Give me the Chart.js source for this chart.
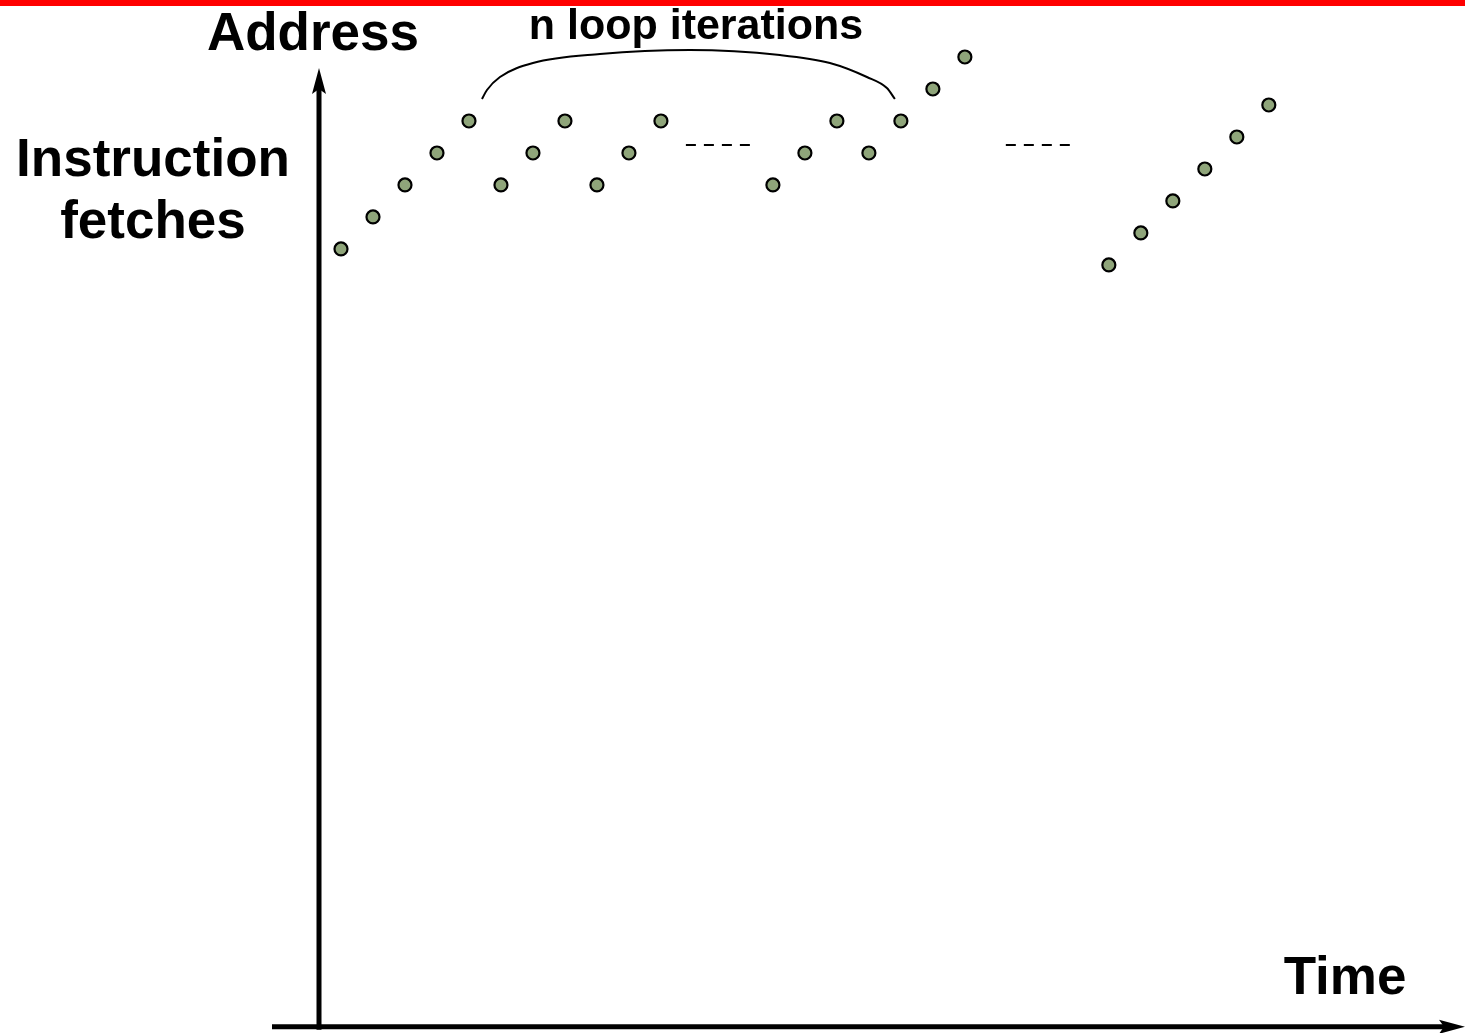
<!DOCTYPE html>
<html>
<head>
<meta charset="utf-8">
<title>Instruction fetches</title>
<script src="https://cdn.jsdelivr.net/npm/chart.js@4.4.0/dist/chart.umd.min.js"></script>
<style>
  html, body { margin: 0; padding: 0; background: #fff; overflow: hidden; }
  #myChart { display: block; }
</style>
</head>
<body>
<canvas id="myChart" width="1465" height="1033"></canvas>
<script>
// time step of each fetch and the address level it hits
var fetchTimes = [1, 2, 3, 4, 5, 6, 7, 8, 9, 10, 11,
                  14.5, 15.5, 16.5, 17.5, 18.5, 19.5, 20.5,
                  25, 26, 27, 28, 29, 30];
var fetchAddr = [1, 2, 3, 4, 5, 3, 4, 5, 3, 4, 5,
                 3, 4, 5, 4, 5, 6, 7,
                 0.5, 1.5, 2.5, 3.5, 4.5, 5.5];

// "- - - -" gaps meaning more iterations
var gap1X = [11.78, 13.78];
var gap2X = [21.78, 23.78];
var gapY = [4.25, 4.25];

// brace over the loop iterations
var braceX = [5.406, 5.5625, 5.969, 7.0, 9.094, 11.906, 14.719, 16.281, 17.4375, 18.0625, 18.3125];
var braceY = [5.6875, 5.969, 6.375, 6.8125, 7.094, 7.219, 7.0625, 6.8125, 6.375, 6.031, 5.6875];

// where the two axes cross, and where the address arrow ends
var originX = 0.3125, originY = -23.3125;
var arrowTopY = 6.65625;
var xMin = 0.3125, xMax = 35.86;
var yMin = -23.234, yMax = 7.53125;

var braceLabel = 'n loop iterations';
var yLabel = 'Address';
var yLabel2 = ['Instruction', 'fetches'];
var xLabel = 'Time';

function toPoints(xs, ys) {
    var pts = [];
    for (var i = 0; i < xs.length; ++i) {
        pts.push({x: xs[i], y: ys[i]});
    }
    return pts;
}

function arrowHead(ctx, x, y, dir) {
    // dir: 'up' or 'right'
    ctx.beginPath();
    if (dir == 'up') {
        ctx.moveTo(x, y);
        ctx.lineTo(x + 7, y + 26);
        ctx.lineTo(x, y + 21);
        ctx.lineTo(x - 7, y + 26);
    } else {
        ctx.moveTo(x, y);
        ctx.lineTo(x - 26, y - 7);
        ctx.lineTo(x - 21, y);
        ctx.lineTo(x - 26, y + 7);
    }
    ctx.closePath();
    ctx.fill();
}

var decor = {
    id: 'decor',
    beforeDatasetsDraw: function(chart) {
        var ctx = chart.ctx;
        var ox = chart.scales.x.getPixelForValue(originX);
        var oy = chart.scales.y.getPixelForValue(originY);
        var topY = chart.scales.y.getPixelForValue(arrowTopY);
        ctx.save();
        // red rule along the top
        ctx.fillStyle = '#ff0000';
        ctx.fillRect(0, 0, chart.width, 6);
        // axes
        ctx.strokeStyle = '#000';
        ctx.fillStyle = '#000';
        ctx.lineWidth = 5;
        ctx.beginPath();
        ctx.moveTo(ox, oy + 3);
        ctx.lineTo(ox, topY + 20);
        ctx.stroke();
        ctx.beginPath();
        ctx.moveTo(ox - 47, oy);
        ctx.lineTo(chart.width - 20, oy);
        ctx.stroke();
        arrowHead(ctx, ox, topY, 'up');
        arrowHead(ctx, chart.width, oy, 'right');
        // labels
        ctx.textAlign = 'center';
        ctx.textBaseline = 'middle';
        ctx.font = 'bold 53px "Liberation Sans", Arial, sans-serif';
        ctx.fillText(yLabel, ox - 6, 35);
        ctx.fillText(yLabel2[0], 153, 161);
        ctx.fillText(yLabel2[1], 153, 223);
        ctx.fillText(xLabel, 1345, 979);
        ctx.font = 'bold 43px "Liberation Sans", Arial, sans-serif';
        ctx.fillText(braceLabel, 696, 27);
        ctx.restore();
    }
};

var ctx = document.getElementById('myChart').getContext('2d');
var chart = new Chart(ctx, {
    type: 'scatter',
    data: {
        datasets: [{
            label: 'fetches',
            data: toPoints(fetchTimes, fetchAddr),
            pointRadius: 6.5,
            pointBorderWidth: 2.2,
            pointBorderColor: '#000',
            pointBackgroundColor: '#8fa57a',
            showLine: false,
            clip: false
        }, {
            type: 'line',
            label: 'gap1',
            data: toPoints(gap1X, gapY),
            borderColor: '#000',
            borderWidth: 2,
            borderDash: [10, 8],
            pointRadius: 0
        }, {
            type: 'line',
            label: 'gap2',
            data: toPoints(gap2X, gapY),
            borderColor: '#000',
            borderWidth: 2,
            borderDash: [10, 8],
            pointRadius: 0
        }, {
            type: 'line',
            label: 'brace',
            data: toPoints(braceX, braceY),
            borderColor: '#000',
            borderWidth: 2,
            cubicInterpolationMode: 'monotone',
            pointRadius: 0,
            clip: false
        }]
    },
    options: {
        responsive: false,
        animation: false,
        devicePixelRatio: 1,
        layout: { padding: { left: 319, top: 40, right: 0, bottom: 6 } },
        plugins: {
            legend: { display: false },
            tooltip: { enabled: false },
            title: { display: false }
        },
        scales: {
            x: { type: 'linear', min: xMin, max: xMax, display: false },
            y: { type: 'linear', min: yMin, max: yMax, display: false }
        }
    },
    plugins: [decor]
});
</script>
</body>
</html>
